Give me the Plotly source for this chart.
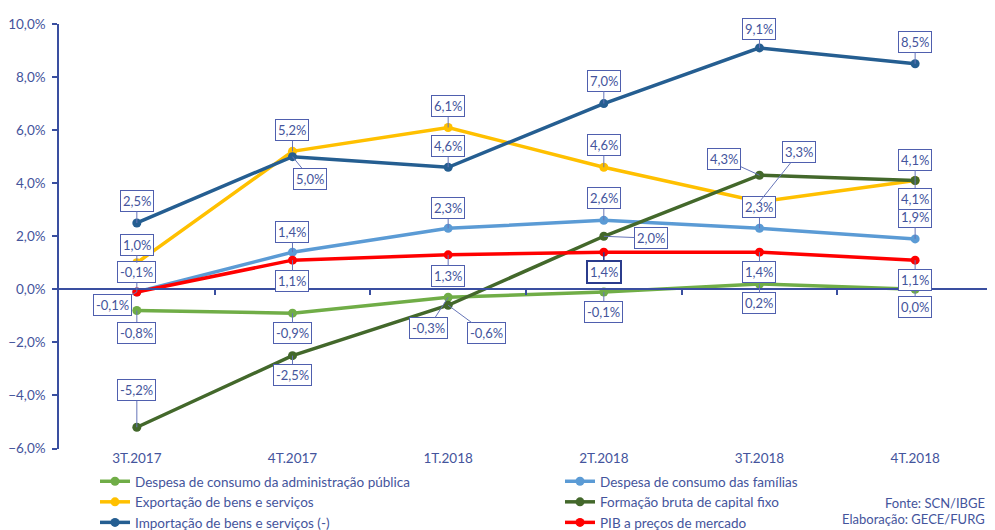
import plotly.graph_objects as go

# ---- data ----
categories = ["3T.2017", "4T.2017", "1T.2018", "2T.2018", "3T.2018", "4T.2018"]

adm_publica = [-0.8, -0.9, -0.3, -0.1, 0.2, 0.0]
consumo_familias = [-0.1, 1.4, 2.3, 2.6, 2.3, 1.9]
exportacao = [1.0, 5.2, 6.1, 4.6, 3.3, 4.1]
fbcf = [-5.2, -2.5, -0.6, 2.0, 4.3, 4.1]
importacao = [2.5, 5.0, 4.6, 7.0, 9.1, 8.5]
pib = [-0.1, 1.1, 1.3, 1.4, 1.4, 1.1]

series_names = [
    "Despesa de consumo da administração pública",
    "Despesa de consumo das famílias",
    "Exportação de bens e serviços",
    "Formação bruta de capital fixo",
    "Importação de bens e serviços (-)",
    "PIB a preços de mercado",
]
series_values = [adm_publica, consumo_familias, exportacao, fbcf, importacao, pib]

# ---- styles ----
colors = ["#70AD47", "#5B9BD5", "#FFC000", "#43682B", "#255E91", "#FF0000"]

# callout offsets (pixels) for each series / category
label_offsets = [
    [(0, 22), (0, 20), (-20, 31), (0, 20), (0, 19), (0, 18)],          # adm
    [(0, -20), (0, -20), (0, -20), (0, -22), (0, -21), (0, -22)],      # famílias
    [(0, -18), (0, -21), (0, -21), (0, -22), (40, -50), (0, 18)],      # exportação
    [(0, -37), (0, 19), (38, 28), (47, 2), (-35, -16), (0, -21)],      # fbcf
    [(0, -22), (18, 22), (0, -21), (0, -23), (0, -19), (0, -22)],      # importação
    [(-24, 13), (0, 21), (0, 21), (0, 20), (0, 20), (0, 20)],          # pib
]
# one callout is highlighted (darker, thicker border) in the reference
highlighted = {(5, 3)}

TXT = "#44549C"
AXIS = "#3A4FA0"
FONT = "Lato"

fig = go.Figure()

annotations = []
for si, (name, vals, col, offs) in enumerate(zip(series_names, series_values, colors, label_offsets)):
    fig.add_trace(go.Scatter(
        x=categories, y=vals, name=name, mode="lines+markers",
        line=dict(color=col, width=3.5),
        marker=dict(color=col, size=9),
        hoverinfo="skip",
    ))
    for ci, (cat, v, (ax, ay)) in enumerate(zip(categories, vals, offs)):
        hl = (si, ci) in highlighted
        annotations.append(dict(
            x=cat, y=v, xref="x", yref="y",
            text=f"{v:.1f}%".replace(".", ","),
            showarrow=True, arrowhead=0, arrowwidth=1.5 if hl else 1,
            arrowcolor="#2B3C8C" if hl else "#6675B8",
            ax=ax, ay=ay, standoff=0,
            bgcolor="white", bordercolor="#2B3C8C" if hl else "#4F5FAE",
            borderwidth=2 if hl else 1, borderpad=2,
            font=dict(family=FONT, size=13, color=TXT),
        ))

# invisible helper trace for the zero-line axis
fig.add_trace(go.Scatter(x=[0], y=[0], xaxis="x2", yaxis="y", mode="markers",
                         marker=dict(opacity=0), showlegend=False, hoverinfo="skip"))

annotations.append(dict(x=1.0, y=-0.129, xref="paper", yref="paper", xanchor="right",
                        yanchor="middle", showarrow=False, text="Fonte: SCN/IBGE",
                        font=dict(family=FONT, size=13, color=TXT)))
annotations.append(dict(x=1.0, y=-0.167, xref="paper", yref="paper", xanchor="right",
                        yanchor="middle", showarrow=False, text="Elaboração: GECE/FURG",
                        font=dict(family=FONT, size=13, color=TXT)))

n = len(categories)
W, H = 979, 522
ML, MR = 50, 0
cat_px = 155.83  # pixel width of one category slot
x_hi = -0.5 + (W - ML - MR) / cat_px

fig.update_layout(
    width=W, height=H,
    margin=dict(l=ML, r=MR, t=16, b=80),
    paper_bgcolor="white", plot_bgcolor="white",
    separators=",.",
    font=dict(family=FONT, size=13, color=TXT),
    showlegend=True,
    legend=dict(
        orientation="h", xref="container", yref="container",
        x=87 / W, y=1 - 458 / H, xanchor="left", yanchor="top",
        entrywidth=420, entrywidthmode="pixels",
        font=dict(family=FONT, size=13.5, color=TXT),
        bgcolor="rgba(0,0,0,0)", itemclick=False,
    ),
    xaxis=dict(
        type="category", categoryorder="array", categoryarray=categories,
        range=[-0.5, x_hi], showline=False, showgrid=False, zeroline=False,
        ticks="", tickfont=dict(family=FONT, size=13.5, color=TXT),
    ),
    xaxis2=dict(
        overlaying="x", anchor="free", position=6 / 16, side="bottom",
        range=[-0.5, x_hi], showline=True, linecolor=AXIS, linewidth=1.5,
        ticks="outside", ticklen=5, tickcolor=AXIS, tickwidth=1.5,
        tickvals=[i + 0.5 for i in range(n)], showticklabels=False,
        showgrid=False, zeroline=False,
    ),
    yaxis=dict(
        range=[-6, 10], dtick=2, tick0=0, tickformat=".1f", ticksuffix="%",
        showline=True, linecolor=AXIS, linewidth=1.5,
        ticks="outside", ticklen=5, tickcolor=AXIS, tickwidth=1.5,
        ticklabelstandoff=4,
        showgrid=False, zeroline=False,
        tickfont=dict(family=FONT, size=13.5, color=TXT),
    ),
    annotations=annotations,
)

fig.write_html("out.html")
